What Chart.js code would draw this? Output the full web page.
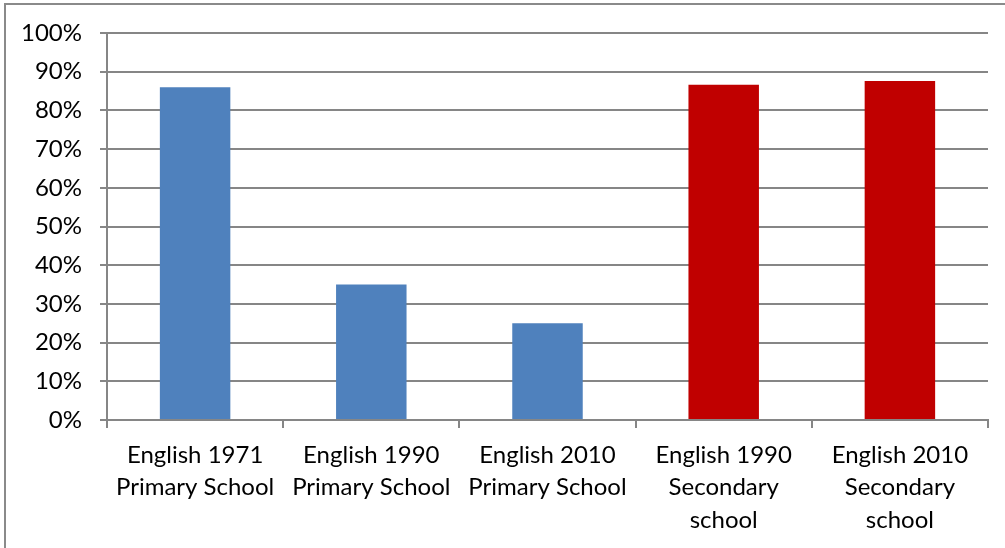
<!DOCTYPE html>
<html>
<head>
<meta charset="utf-8">
<script src="https://cdn.jsdelivr.net/npm/chart.js@4"></script>
<style>
  html, body { margin: 0; padding: 0; background: #fff; overflow: hidden; }
  #wrap { position: relative; width: 1005px; height: 548px; }
  #frame { position: absolute; left: 4px; top: 3px; width: 1020px; height: 570px; border: 2px solid #8a8a8a; box-sizing: border-box; pointer-events: none; }
  canvas { position: absolute; left: 0; top: 0; }
</style>
</head>
<body>
<div id="wrap">
  <canvas id="c" width="1005" height="548"></canvas>
  <div id="frame"></div>
</div>
<script>
const categories = [
  ["English 1971", "Primary School"],
  ["English 1990", "Primary School"],
  ["English 2010", "Primary School"],
  ["English 1990", "Secondary", "school"],
  ["English 2010", "Secondary", "school"]
];
const values = [0.86, 0.35, 0.25, 0.866, 0.876];
const barColors = ["#4F81BD", "#4F81BD", "#4F81BD", "#C00000", "#C00000"];
const yMin = 0, yMax = 1, yStep = 0.1;

const FONT = "Lato, 'Open Sans', sans-serif";

new Chart(document.getElementById('c'), {
  type: 'bar',
  data: {
    labels: categories,
    datasets: [{
      data: values,
      backgroundColor: barColors,
      borderWidth: 0,
      barPercentage: 0.4,
      categoryPercentage: 1.0
    }]
  },
  options: {
    responsive: false,
    animation: false,
    devicePixelRatio: 1,
    layout: { padding: { top: 33, right: 17, left: 0, bottom: 0 } },
    plugins: { legend: { display: false }, tooltip: { enabled: false } },
    scales: {
      x: {
        grid: { offset: true, drawOnChartArea: false, drawTicks: true, tickLength: 8, color: '#868686', lineWidth: 2 },
        border: { color: '#868686', width: 2 },
        ticks: {
          color: '#000',
          font: { family: FONT, size: 24, lineHeight: 1.35 },
          padding: 11,
          maxRotation: 0,
          autoSkip: false
        },
        afterFit: (s) => { s.height = 128; }
      },
      y: {
        min: yMin, max: yMax,
        grid: { color: '#868686', lineWidth: 2, tickLength: 7 },
        border: { color: '#868686', width: 2 },
        ticks: {
          stepSize: yStep,
          color: '#000',
          font: { family: FONT, size: 24 },
          padding: 18,
          callback: (v) => Math.round(v * 100) + '%'
        },
        afterFit: (s) => { s.width = 107; }
      }
    }
  }
});
</script>
</body>
</html>
